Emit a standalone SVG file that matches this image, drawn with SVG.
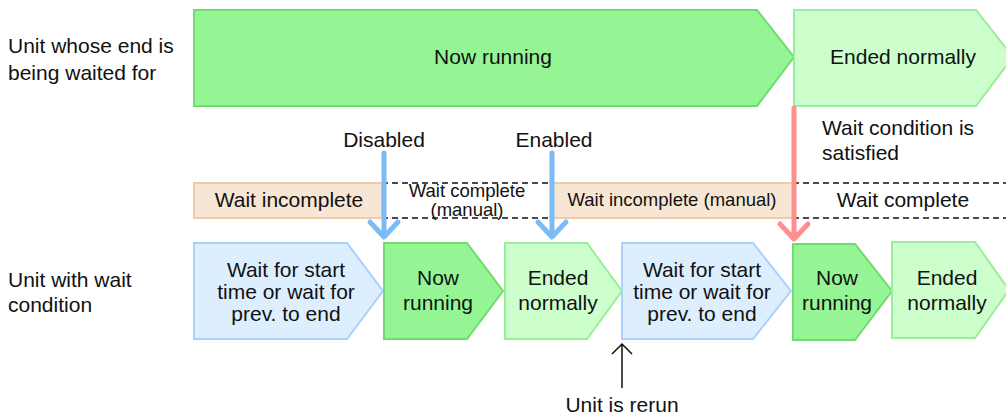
<svg xmlns="http://www.w3.org/2000/svg" width="1006" height="415" viewBox="0 0 1006 415">
<style>
text{font-family:"Liberation Sans",Arial,sans-serif;font-size:21px;fill:#111}
.c{text-anchor:middle}
.sm{font-size:18.5px}
.run{fill:#95F595;stroke:#6FDC6F;stroke-width:2}
.end{fill:#CCFFCC;stroke:#99EE99;stroke-width:2}
.wait{fill:#DDEEFF;stroke:#AAD0FF;stroke-width:2}
.inc{fill:#F8E6D4;stroke:#EECBAA;stroke-width:2}
.dash{stroke:#111;stroke-width:1.5;stroke-dasharray:6,4;fill:none}
.blue{stroke:#7DBBF7;stroke-width:5;fill:none;stroke-linecap:round;stroke-linejoin:round}
.red{stroke:#FF8F8F;stroke-width:5;fill:none;stroke-linecap:round;stroke-linejoin:round}
.blk{stroke:#111;stroke-width:1.5;fill:none}
</style>
<g id="labels">
<text x="8" y="53">Unit whose end is</text>
<text x="8" y="80">being waited for</text>
<text x="8" y="287">Unit with wait</text>
<text x="8" y="312">condition</text>
</g>
<g id="top-running">
<polygon class="run" points="194,10 757,10 794,57 757,106 194,106"/>
<text class="c" x="493" y="64">Now running</text>
</g>
<g id="top-ended">
<polygon class="end" points="794,10 976,10 1013,57 976,106 794,106"/>
<text class="c" x="903" y="64">Ended normally</text>
</g>
<g id="status-bar">
<rect class="inc" x="194" y="183" width="188" height="35"/>
<text class="c" x="289" y="207">Wait incomplete</text>
<path class="dash" d="M382,183H551M382,218H551"/>
<text class="c sm" x="467" y="197">Wait complete</text>
<text class="c sm" x="467" y="216">(manual)</text>
<rect class="inc" x="551" y="183" width="242" height="35"/>
<text class="c sm" x="672" y="206">Wait incomplete (manual)</text>
<path class="dash" d="M793,183H1006M793,218H1006"/>
<text class="c" x="903" y="207">Wait complete</text>
</g>
<g id="b1">
<polygon class="wait" points="194,243 347,243 383,291 347,339 194,339"/>
<text class="c" x="286" y="277">Wait for start</text>
<text class="c" x="286" y="299">time or wait for</text>
<text class="c" x="286" y="321">prev. to end</text>
</g>
<g id="b2">
<polygon class="run" points="384,243 467,243 503,291 467,339 384,339"/>
<text class="c" x="438" y="285">Now</text>
<text class="c" x="438" y="310">running</text>
</g>
<g id="b3">
<polygon class="end" points="505,243 587,243 622,291 587,339 505,339"/>
<text class="c" x="558" y="285">Ended</text>
<text class="c" x="558" y="310">normally</text>
</g>
<g id="b4">
<polygon class="wait" points="622,243 753,243 791,291 753,339 622,339"/>
<text class="c" x="702" y="277">Wait for start</text>
<text class="c" x="702" y="299">time or wait for</text>
<text class="c" x="702" y="321">prev. to end</text>
</g>
<g id="b5">
<polygon class="run" points="793,244 855,244 892,291 855,340 793,340"/>
<text class="c" x="837" y="285">Now</text>
<text class="c" x="837" y="310">running</text>
</g>
<g id="b6">
<polygon class="end" points="892,242 975,242 1009,290 975,338 892,338"/>
<text class="c" x="947" y="285">Ended</text>
<text class="c" x="947" y="310">normally</text>
</g>
<g id="connectors">
<path class="blue" d="M384,153V236M370,222L384,237L398,222"/>
<path class="blue" d="M552,153V236M538,222L552,237L566,222"/>
<path class="red" d="M794,108V238M780,224L794,239L808,224"/>
<path class="blk" d="M622,388V344M612,354L622,344L632,354"/>
</g>
<g id="annotations">
<text class="c" x="384" y="147">Disabled</text>
<text class="c" x="554" y="147">Enabled</text>
<text x="822" y="135">Wait condition is</text>
<text x="822" y="160">satisfied</text>
<text class="c" x="622" y="412">Unit is rerun</text>
</g>
</svg>
